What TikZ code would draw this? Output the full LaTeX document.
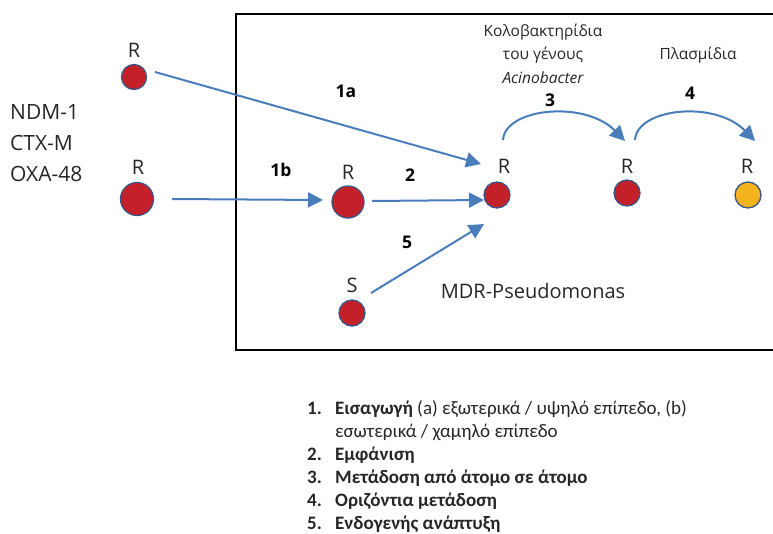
\documentclass[tikz,border=0pt]{standalone}
\usepackage{fontspec}
\setmainfont{Carlito}
\newfontfamily\diagfont{Open Sans}
\usetikzlibrary{arrows.meta}
\definecolor{cred}{HTML}{C4202A}
\definecolor{cedge}{HTML}{3D5585}
\definecolor{cyel}{HTML}{F5B41E}
\definecolor{carrow}{HTML}{4A7EBB}
\definecolor{ctext}{HTML}{262626}
\begin{document}
\begin{tikzpicture}[x=1pt,y=-1pt,
  bact/.style={circle, draw=cedge, fill=cred, line width=1.3pt, inner sep=0pt},
  lab/.style={font=\diagfont\fontsize{20}{24}\selectfont, text=ctext, inner sep=0pt},
  sidelab/.style={font=\diagfont\fontsize{21}{25}\selectfont, text=ctext, inner sep=0pt, anchor=west},
  toplab/.style={font=\diagfont\fontsize{15.5}{19}\selectfont, text=ctext, inner sep=0pt},
  numlab/.style={font=\diagfont\fontsize{17.5}{21}\selectfont\bfseries, text=black, inner sep=0pt},
  arr/.style={draw=carrow, line width=2pt, -{Triangle[length=15pt,width=15pt]}},
  itemnum/.style={font=\fontsize{19}{22}\selectfont\bfseries, text=ctext, anchor=base west, inner sep=0pt},
  itemtext/.style={font=\fontsize{19}{22}\selectfont, text=ctext, anchor=base west, inner sep=0pt}
]
\useasboundingbox (0,0) rectangle (773,533);
\draw[line width=2pt] (236,14) rectangle (800,350);

% bacteria
\node[bact, minimum size=25pt] (r0) at (134,77) {};
\node[lab] (lr0) at (134,50) {R};
\node[bact, minimum size=33pt] (r1) at (137,199) {};
\node[lab] (lr1) at (138,167) {R};
\node[bact, minimum size=32pt] (r2) at (348,202) {};
\node[lab] (lr2) at (348,172) {R};
\node[bact, minimum size=26pt] (s) at (352,313) {};
\node[lab] (ls) at (352,285) {S};
\node[bact, minimum size=26pt] (r3) at (497,195) {};
\node[lab] (lr3) at (504,166) {R};
\node[bact, minimum size=26pt] (r4) at (627,193) {};
\node[lab] (lr4) at (627,166) {R};
\node[bact, fill=cyel, minimum size=26pt] (r5) at (748,195) {};
\node[lab] (lr5) at (747,166) {R};

% left labels
\node[sidelab] (ndm) at (10,112) {NDM-1};
\node[sidelab] (ctx) at (10,143) {CTX-M};
\node[sidelab] (oxa) at (10,174) {OXA-48};

% arrow anchor coordinates
\coordinate (a1s) at (155,72);
\coordinate (a1e) at (481,164);
\coordinate (b1s) at (172,199);
\coordinate (b1e) at (323,200);
\coordinate (a2s) at (372,201);
\coordinate (a2e) at (484,200);
\coordinate (a5s) at (371,293);
\coordinate (a5e) at (484,224);
\coordinate (a3s) at (503,140);
\coordinate (a3e) at (625,141);
\coordinate (a4s) at (635,140);
\coordinate (a4e) at (755,141);

\draw[arr] (a1s) -- (a1e);
\draw[arr] (b1s) -- (b1e);
\draw[arr] (a2s) -- (a2e);
\draw[arr] (a5s) -- (a5e);
\draw[arr] (a3s) .. controls (505,108) and (585,100) .. (a3e);
\draw[arr] (a4s) .. controls (637,108) and (715,100) .. (a4e);

% step numbers
\node[numlab] (n1a) at (346,91) {1a};
\node[numlab] (n1b) at (281,170) {1b};
\node[numlab] (n2) at (410,175) {2};
\node[numlab] (n5) at (407,242) {5};
\node[numlab] (n3) at (550,100) {3};
\node[numlab] (n4) at (690,93) {4};

% top labels
\node[toplab] (k1) at (543,32) {Κολοβακτηρίδια};
\node[toplab] (k2) at (543,55) {του γένους};
\node[toplab, font=\diagfont\fontsize{15.5}{19}\selectfont\itshape] (k3) at (543,78) {Acinobacter};
\node[toplab] (pl) at (698,55) {Πλασμίδια};
\node[lab] (mdr) at (533,291) {MDR-Pseudomonas};

% list
\node[itemnum] (i1n) at (307,414) {1.};
\node[itemtext] (i1t) at (335,414) {\textbf{Εισαγωγή} (a) εξωτερικά / υψηλό επίπεδο, (b)};
\node[itemtext] (i1u) at (335,437) {εσωτερικά / χαμηλό επίπεδο};
\node[itemnum] (i2n) at (307,460) {2.};
\node[itemnum] (i2t) at (335,460) {Εμφάνιση};
\node[itemnum] (i3n) at (307,483) {3.};
\node[itemnum] (i3t) at (335,483) {Μετάδοση από άτομο σε άτομο};
\node[itemnum] (i4n) at (307,506) {4.};
\node[itemnum] (i4t) at (335,506) {Οριζόντια μετάδοση};
\node[itemnum] (i5n) at (307,529) {5.};
\node[itemnum] (i5t) at (335,529) {Ενδογενής ανάπτυξη};
\end{tikzpicture}
\end{document}
